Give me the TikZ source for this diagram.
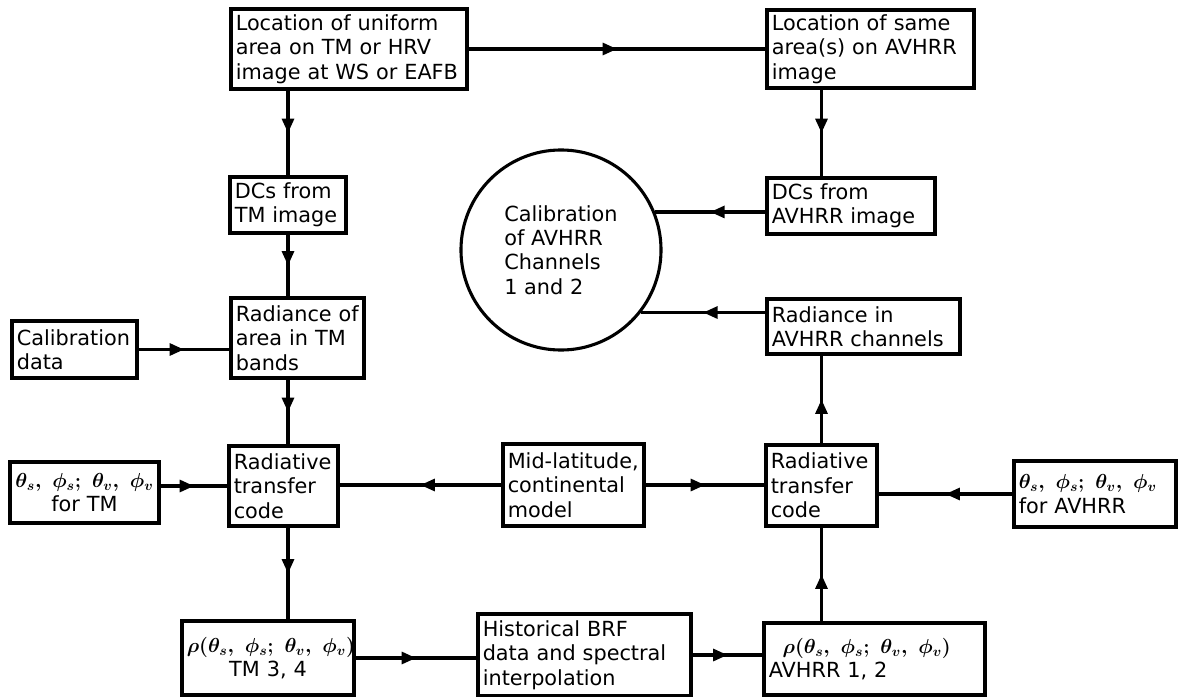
\documentclass[tikz,border=0pt]{standalone}
\usepackage{amsmath,amssymb}
\usepackage{fontspec}
\usepackage{tikz}
\usetikzlibrary{arrows.meta,decorations.markings,positioning}
\newfontfamily\diagfont{DejaVu Sans}
\newcommand{\boxfont}{\diagfont\fontsize{14.8}{17.4}\selectfont\hyphenpenalty=10000}
\newcommand{\angles}{{\boldmath$\theta_s,\ \phi_s;\ \theta_v,\ \phi_v$}}
\newcommand{\brf}{{\boldmath$\rho(\theta_s,\ \phi_s;\ \theta_v,\ \phi_v)$}}

\begin{document}
\begin{tikzpicture}[x=0.025cm, y=-0.025cm,
    box/.style={rectangle, draw, line width=2.2pt, inner xsep=0.12cm, inner ysep=0pt, align=left, font=\boxfont},
    flow/.style={line width=2.2pt, postaction={decorate},
        decoration={markings, mark=at position 0.5 with {\arrow{Triangle[length=0.36cm, width=0.3cm]}}}}
]
    \useasboundingbox (0,0) rectangle (1180,697);

    % === TOP ROW ===
    \node[box, text width=5.66cm, minimum height=2.0cm] (locTM) at (349,49)
        {Location of uniform\\ area on TM or HRV\\ image at WS or EAFB};
    \node[box, text width=4.935cm, minimum height=1.95cm] (locAV) at (870.5,49)
        {Location of same\\ area(s) on AVHRR\\ image};

    % === DIGITAL COUNTS ===
    \node[box, text width=2.66cm, minimum height=1.4cm] (dcTM) at (288,205) {DCs from\\ TM image};
    \node[box, text width=3.96cm, minimum height=1.4cm] (dcAV) at (851,206) {DCs from\\ AVHRR image};

    % Calibration circle
    \node[circle, draw, line width=2.2pt, minimum size=5cm, align=left, font=\boxfont] (calib) at (561,250)
        {Calibration\\ of AVHRR\\ Channels\\ 1 and 2};

    % === RADIANCE ===
    \node[box, text width=2.885cm, minimum height=1.425cm] (caldata) at (74.5,349.5) {Calibration\\ data};
    \node[box, text width=3.085cm, minimum height=2.0cm] (radTM) at (297.5,338) {Radiance of\\ area in TM\\ bands};
    \node[box, text width=4.585cm, minimum height=1.375cm] (radAV) at (863.5,326.5) {Radiance in\\ AVHRR channels};

    % === RADIATIVE TRANSFER ===
    \node[box, align=center, text width=3.485cm, minimum height=1.525cm] (angTM) at (84.5,492.5)
        {\angles\\ for TM};
    \node[box, text width=2.485cm, minimum height=2.0cm] (rtcTM) at (283.5,486) {Radiative\\ transfer\\ code};
    \node[box, text width=3.285cm, minimum height=2.05cm] (model) at (573.5,485) {Mid-latitude,\\ continental\\ model};
    \node[box, text width=2.535cm, minimum height=2.025cm] (rtcAV) at (821.5,485.5) {Radiative\\ transfer\\ code};
    \node[box, text width=3.81cm, minimum height=1.65cm] (angAV) at (1095,494)
        {\angles\\ for AVHRR};

    % === REFLECTANCE ===
    \node[box, align=center, text width=4.06cm, minimum height=1.85cm] (brfTM) at (268,658)
        {\brf\\ TM 3, 4};
    \node[box, text width=5.085cm, minimum height=2.05cm] (hist) at (584.5,655)
        {Historical BRF\\ data and spectral\\ interpolation};
    \node[box, text width=5.285cm, minimum height=1.8cm] (brfAV) at (874.5,659)
        {\ \ \brf\\ AVHRR 1, 2};

    % Left column
    \draw[flow] (locTM.south -| dcTM.north) -- (dcTM.north);
    \draw[flow] (dcTM.south) -- (dcTM.south |- radTM.north);
    \draw[flow] (radTM.south -| dcTM.south) -- (dcTM.south |- rtcTM.north);
    \draw[flow] (rtcTM.south -| dcTM.south) -- (dcTM.south |- brfTM.north);

    % Right column
    \draw[flow] (locAV.south -| rtcAV.north) -- (dcAV.north -| rtcAV.north);
    \draw[flow] (rtcAV.north) -- (rtcAV.north |- radAV.south);
    \draw[flow] (brfAV.north -| rtcAV.south) -- (rtcAV.south);

    % Horizontal links
    \draw[flow] (locTM.east) -- (locAV.west);
    \draw[flow] (dcAV.west |- calib.22) -- (calib.22);
    \draw[flow] (radAV.west |- calib.-38) -- (calib.-38);
    \draw[flow] (caldata.east) -- (caldata.east -| radTM.west);
    \draw[flow] (rtcTM.west -| angTM.east) -- (rtcTM.west);
    \draw[flow] (model.west) -- (model.west -| rtcTM.east);
    \draw[flow] (model.east) -- (model.east -| rtcAV.west);
    \draw[flow] (angAV.west) -- (angAV.west -| rtcAV.east);
    \draw[flow] (brfTM.east) -- (brfTM.east -| hist.west);
    \draw[flow] (hist.east) -- (hist.east -| brfAV.west);

\end{tikzpicture}
\end{document}
